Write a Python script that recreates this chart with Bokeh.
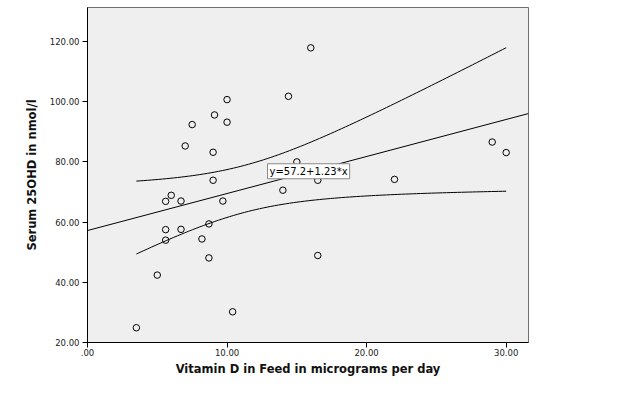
import numpy as np
from bokeh.plotting import figure
from bokeh.models import Range1d, FixedTicker, Label, ColumnDataSource
from bokeh.embed import file_html
from bokeh.resources import INLINE

# Data
vitamin_d = [16.0, 14.4, 10.0, 9.1, 7.5, 10.0, 7.0, 9.0, 15.0, 9.0, 14.0,
             5.6, 6.0, 6.7, 9.7, 8.7, 5.6, 6.7, 5.6, 8.2, 8.7, 5.0, 10.4,
             3.5, 29.0, 30.0, 16.5, 22.0, 16.5]
serum = [117.9, 101.8, 100.7, 95.6, 92.4, 93.2, 85.3, 83.2, 80.0, 73.9, 70.6,
         66.9, 68.9, 67.0, 67.0, 59.4, 57.5, 57.6, 54.0, 54.4, 48.1, 42.4, 30.2,
         24.9, 86.6, 83.1, 73.9, 74.2, 48.9]
intercept = 57.2
slope = 1.23
x_ticks = [0, 10, 20, 30]
x_tick_labels = {0: ".00", 10: "10.00", 20: "20.00", 30: "30.00"}
y_ticks = [20, 40, 60, 80, 100, 120]
y_tick_labels = {v: f"{v}.00" for v in y_ticks}
fit_label = "y=57.2+1.23*x"

x = np.array(vitamin_d)
y = np.array(serum)
n = len(x)

# Fit line over whole x range
x_min, x_max = 0.0, 31.6
fit_x = np.array([x_min, x_max])
fit_y = intercept + slope * fit_x

# 95% confidence band for the mean (from the data)
yhat = intercept + slope * x
s = np.sqrt(np.sum((y - yhat) ** 2) / (n - 2))
xbar = x.mean()
sxx = np.sum((x - xbar) ** 2)
t_crit = 2.052
band_x = np.linspace(x.min(), x.max(), 100)
band_fit = intercept + slope * band_x
half = t_crit * s * np.sqrt(1.0 / n + (band_x - xbar) ** 2 / sxx)

p = figure(width=616, height=390, output_backend="svg", toolbar_location=None,
           x_range=Range1d(x_min, x_max), y_range=Range1d(20, 131.3),
           min_border_left=87, min_border_right=88, min_border_top=7,
           min_border_bottom=48)
p.background_fill_color = "#efefef"
p.border_fill_color = "white"
p.outline_line_color = "#707070"
p.outline_line_width = 1
p.grid.visible = False

p.xaxis.ticker = FixedTicker(ticks=x_ticks)
p.xaxis.major_label_overrides = x_tick_labels
p.yaxis.ticker = FixedTicker(ticks=y_ticks)
p.yaxis.major_label_overrides = y_tick_labels
for ax in (p.xaxis, p.yaxis):
    ax.minor_tick_line_color = None
    ax.major_tick_out = 5
    ax.major_tick_in = 0
    ax.axis_line_color = "black"
    ax.major_tick_line_color = "black"
    ax.major_label_text_font = "DejaVu Sans"
    ax.major_label_text_font_size = "8.5px"
    ax.major_label_text_color = "#222222"
    ax.axis_label_text_font = "DejaVu Sans"
    ax.axis_label_text_font_style = "bold"
    ax.axis_label_text_font_size = "11.5px"
    ax.axis_label_text_color = "#111111"
p.xaxis.major_label_standoff = 1
p.yaxis.major_label_standoff = 3
p.xaxis.axis_label = "Vitamin D in Feed in micrograms per day"
p.yaxis.axis_label = "Serum 25OHD in nmol/l"
p.xaxis.axis_label_standoff = 3
p.yaxis.axis_label_standoff = 8

p.line(fit_x, fit_y, line_color="black", line_width=1)
p.line(band_x, band_fit + half, line_color="black", line_width=1)
p.line(band_x, band_fit - half, line_color="black", line_width=1)

p.scatter(x="x", y="y", source=ColumnDataSource(dict(x=vitamin_d, y=serum)),
          marker="circle", size=6.5, fill_color=None, line_color="black",
          line_width=1)

lab = Label(x=12.9, y=74.4, text=fit_label, text_font="DejaVu Sans",
            text_font_size="10px", text_color="black",
            background_fill_color="white", background_fill_alpha=1,
            border_line_color="#888888", border_line_width=1,
            padding=2)
p.add_layout(lab)

open("out.html", "w").write(file_html(p, INLINE))
